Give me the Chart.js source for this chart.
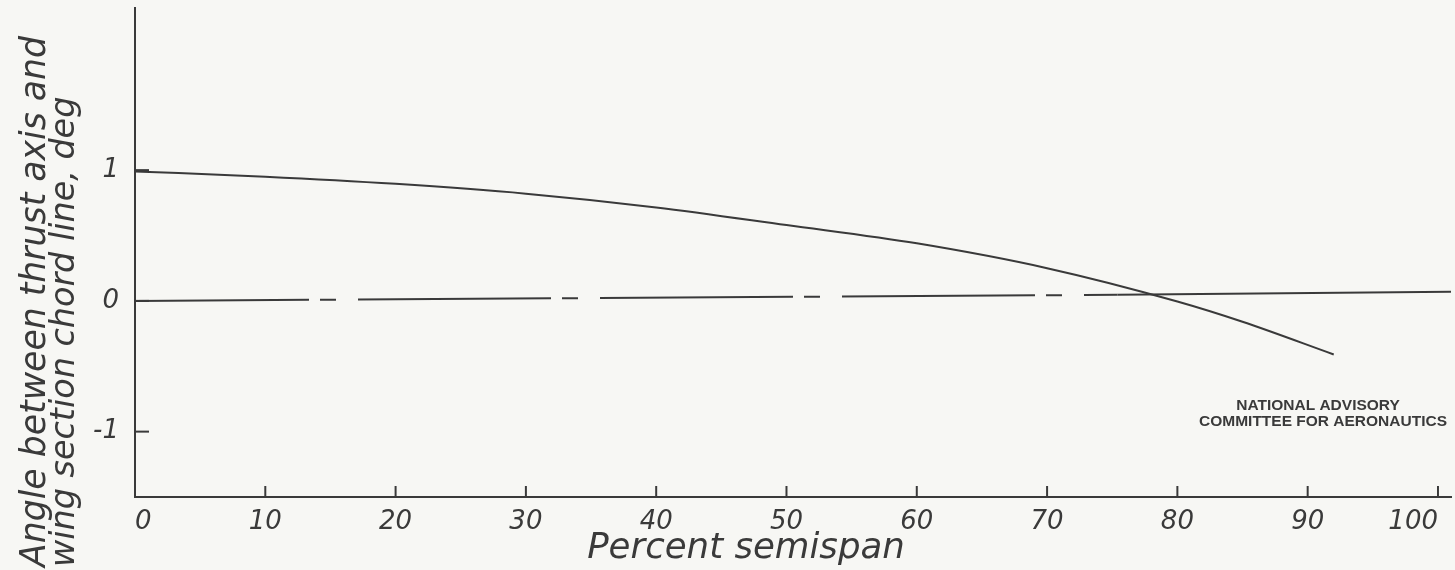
<!DOCTYPE html>
<html>
<head>
<meta charset="utf-8">
<script src="https://cdn.jsdelivr.net/npm/chart.js@4"></script>
<style>
  html, body { margin: 0; padding: 0; background: #f7f7f4; }
  #wrap { position: relative; width: 1455px; height: 570px; }
</style>
</head>
<body>
<div id="wrap"><canvas id="chart"></canvas></div>
<script>
// angle between thrust axis and wing chord line
const spanPct  = [0, 10, 20, 30, 40, 50, 60, 70, 80, 85, 92];
const angleDeg = [0.99, 0.95, 0.895, 0.82, 0.715, 0.58, 0.44, 0.25, -0.005, -0.16, -0.41];

// zero reference line (a little tilted on the scan): dashed part, then solid
const refDashX  = [0, 75.4];
const refDashY  = [0, 0.046];
const refSolidX = [75.4, 101];
const refSolidY = [0.046, 0.069];

const xTickValues = [0, 10, 20, 30, 40, 50, 60, 70, 80, 90, 100];
const yTickValues = [-1, 0, 1];

const yTitleLines = ['Angle between thrust axis and', 'wing section chord line, deg'];
const xTitle = 'Percent semispan';
const noteLines = ['NATIONAL ADVISORY', 'COMMITTEE FOR AERONAUTICS'];

const ink = '#3a3a3a';
const handFont = '"DejaVu Sans", "Liberation Sans", sans-serif';

function pts(xs, ys) {
    return xs.map((x, i) => ({ x: x, y: ys[i] }));
}

// size a font so the text covers a given width
function fitFont(ctx, text, width, style) {
    ctx.font = style + ' 30px ' + handFont;
    const size = 30 * width / ctx.measureText(text).width;
    return style + ' ' + size.toFixed(1) + 'px ' + handFont;
}

// inward tick marks, axis titles and the NACA note
const decorations = {
    id: 'decorations',
    afterDraw(chart) {
        const ctx = chart.ctx;
        const xs = chart.scales.x;
        const ys = chart.scales.y;
        const area = chart.chartArea;

        ctx.save();
        ctx.strokeStyle = ink;
        ctx.lineWidth = 2;
        xTickValues.forEach(v => {
            if (v === 0) return;
            const px = xs.getPixelForValue(v);
            ctx.beginPath();
            ctx.moveTo(px, area.bottom);
            ctx.lineTo(px, area.bottom - 11);
            ctx.stroke();
        });
        yTickValues.forEach(v => {
            const py = ys.getPixelForValue(v);
            ctx.beginPath();
            ctx.moveTo(area.left, py);
            ctx.lineTo(area.left + 14, py);
            ctx.stroke();
        });

        ctx.fillStyle = ink;
        ctx.textBaseline = 'middle';

        // y title, two rotated lines starting near the bottom
        ctx.save();
        ctx.translate(50, 567);
        ctx.rotate(-Math.PI / 2);
        ctx.textAlign = 'left';
        ctx.font = fitFont(ctx, yTitleLines[0], 532, 'italic 300');
        ctx.fillText(yTitleLines[0], 0, -14);
        ctx.font = fitFont(ctx, yTitleLines[1], 470, 'italic 300');
        ctx.fillText(yTitleLines[1], 0, 15);
        ctx.restore();

        // x title
        ctx.textAlign = 'center';
        ctx.font = fitFont(ctx, xTitle, 318, 'italic 300');
        ctx.fillText(xTitle, 746, 549);

        // NACA note
        ctx.font = 'bold 15.5px "Liberation Sans", Arial, sans-serif';
        ctx.fillText(noteLines[0], 1318, 406);
        ctx.fillText(noteLines[1], 1323, 422);
        ctx.restore();
    }
};

new Chart(document.getElementById('chart'), {
    type: 'line',
    data: {
        datasets: [{
            data: pts(spanPct, angleDeg),
            borderColor: ink,
            borderWidth: 2,
            pointRadius: 0,
            tension: 0.4,
            cubicInterpolationMode: 'monotone'
        }, {
            data: pts(refDashX, refDashY),
            borderColor: ink,
            borderWidth: 2,
            pointRadius: 0,
            borderDash: [193, 11, 16, 22],
            borderDashOffset: 19
        }, {
            data: pts(refSolidX, refSolidY),
            borderColor: ink,
            borderWidth: 2,
            pointRadius: 0
        }]
    },
    options: {
        responsive: true,
        maintainAspectRatio: false,
        animation: false,
        layout: { padding: { top: 8, right: 4, left: 0, bottom: 0 } },
        plugins: {
            legend: { display: false },
            tooltip: { enabled: false }
        },
        scales: {
            x: {
                type: 'linear',
                min: 0,
                max: 101,
                afterBuildTicks: s => { s.ticks = xTickValues.map(v => ({ value: v })); },
                afterFit: s => {
                    s.height = 73;
                    s.paddingLeft = 0;
                    s.paddingRight = 0;
                },
                grid: { display: false, drawTicks: false },
                border: { display: true, color: ink, width: 2 },
                ticks: {
                    autoSkip: false,
                    maxRotation: 0,
                    align: 'inner',
                    padding: 10,
                    color: ink,
                    font: { family: handFont, size: 26, style: 'italic', weight: 300 }
                }
            },
            y: {
                type: 'linear',
                min: -1.5,
                max: 2.24,
                afterBuildTicks: s => { s.ticks = yTickValues.map(v => ({ value: v })); },
                afterFit: s => {
                    s.width = 135;
                    s.paddingTop = 0;
                    s.paddingBottom = 0;
                },
                grid: { display: false, drawTicks: false },
                border: { display: true, color: ink, width: 2 },
                ticks: {
                    padding: 16,
                    color: ink,
                    font: { family: handFont, size: 26, style: 'italic', weight: 300 }
                }
            }
        }
    },
    plugins: [decorations]
});
</script>
</body>
</html>
